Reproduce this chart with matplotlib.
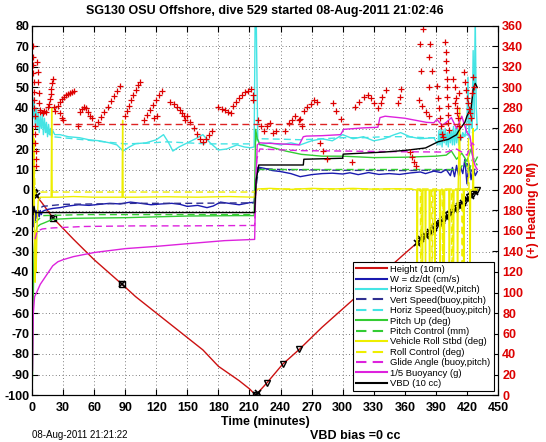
import matplotlib
matplotlib.use('Agg')  # no UI backend
import numpy as np
import matplotlib.pyplot as plt

plt.rcParams['font.family'] = ['Liberation Sans', 'DejaVu Sans']
plt.rcParams['axes.unicode_minus'] = False

# ---- data (time in minutes) ----
height_t = [0, 1.5, 3, 4.5, 10, 20, 40, 60, 87, 100, 120, 150, 165, 180, 200, 210, 216, 218, 227, 242, 258, 280, 300, 320, 340, 360,
            372, 374, 376, 378, 380, 382, 384, 386, 388, 390, 392, 394, 396, 398, 400, 402, 404, 406, 408, 410, 412, 414, 416, 418,
            420, 422, 424, 426, 428, 430]
height_v = [0, -1, -2, -3, -6.5, -13.5, -24, -34, -46, -52, -60, -72, -78, -86, -93, -97, -100, -99, -94, -85, -77.8, -67, -58, -49, -40, -31,
            -25.7, -24.8, -23.9, -23.0, -22.2, -21.3, -20.4, -19.5, -18.6, -17.7, -16.8, -15.9, -15.1, -14.2, -13.3, -12.4, -11.5, -10.6, -9.7, -8.9,
            -8.0, -7.1, -6.2, -5.3, -4.4, -3.5, -2.7, -1.8, -0.9, 0]
mark_x_idx = [0, 1, 2, 3, 5, 8, 16, 17]
mark_sq_idx = [5, 8, 16]
mark_tri_idx = [18, 19, 20]
mark_end_idx = list(range(26, 56))

w_t = [0, 0.5, 1, 1.5, 2, 2.5, 3, 4, 5, 6, 7, 8, 9, 10, 12, 15, 20, 27, 35, 45,
       55, 65, 75, 85, 95, 105, 115, 125, 135, 143, 150, 160, 169, 175, 182, 190, 200, 210, 214.5, 216,
       218, 220, 225, 232, 240, 250, 259, 270, 280, 290, 300, 307, 315, 325, 335, 345, 355, 365, 375, 380,
       388, 395, 400, 404, 406, 408, 410, 412, 414, 416, 418, 420, 422, 424, 426, 428, 430]
w_v = [-20, -13, -18, -12, -16, -11, -15, -10, -14, -10, -13, -10, -12, -10.5, -10, -9.5, -9, -8.6, -7.8, -7.2,
       -7.5, -7.0, -6.5, -6.8, -5.9, -6.5, -7.2, -6.8, -6.5, -7, -8, -7.5, -8.6, -7.8, -5.9, -6.5, -7.2, -6.2, -6.0, 2,
       11, 11, 10.5, 9.5, 9, 8, 6.5, 7.5, 8, 8.2, 7.8, 8.4, 7.5, 8.5, 7.6, 8, 7.6, 8.3, 8.8, 8,
       9.2, 8.5, 10, 7, 11, 6.5, 12, 7, 11, 8, 15, 3, 13, 5, 11, 7, 9]

hs_t = [0, 1, 2, 3, 4, 5, 6, 7, 8, 9, 10, 11, 12, 13, 14, 15, 16, 17, 18, 19, 20,
        22, 27, 35, 46, 55, 65, 75, 82, 88, 94, 100, 110, 120, 127, 132, 136, 142, 150, 158,
        165, 172, 180, 188, 198, 205, 211, 214.5, 215.5, 216.5, 218, 220, 230, 240, 250, 259, 270, 280, 290, 300,
        310, 320, 330, 340, 350, 356, 365, 375, 388, 392,
        393, 394, 395, 396, 397, 398, 399, 400, 401, 402, 403, 404, 405, 406, 407, 408, 409, 410, 411, 412, 413, 414,
        416, 418, 420, 421, 422, 424, 425, 426, 427, 428, 429, 430]
hs_v = [50, 35, 45, 32, 40, 30, 38, 28, 36, 30, 37, 27, 35, 28, 33, 26, 32, 27, 30, 26, 29,
        27, 27, 26, 25.5, 24.5, 24, 23, 22, 19, 21, 22.6, 23, 24.5, 27, 23, 19, 21, 23, 25,
        27, 23, 19.5, 20, 22, 21, 20.6, 21, 85, 85, 25, 22, 23, 22, 23, 22, 24, 25, 24, 27,
        25, 26, 24, 25, 27, 28, 26, 25, 25.5, 22,
        29, 22, 30, 21, 29, 23, 30, 22, 28, 21, 30, 23, 29, 22, 31, 22, 30, 23, 31, 22, 30, 24,
        28, 26, 33, 55, 25, 40, 30, 68, 35, 85, 40, 30]

vs_t = [3, 10, 30, 60, 100, 150, 200, 215, 217, 219, 240, 300, 360, 400, 415, 420, 425, 430]
vs_v = [-13, -8, -7, -6.8, -6.5, -6.5, -6.3, -6.3, 4, 10.5, 10, 9.6, 9.5, 9.7, 10, 13, 9, 11]

hb_t = [2, 10, 20, 30, 50, 70, 90, 110, 130, 150, 170, 190, 210, 215, 217, 220, 240, 260, 280, 300,
        320, 340, 360, 380, 400, 415, 425, 430]
hb_v = [38, 30, 26, 25.5, 24.5, 23.5, 22.5, 22.8, 23.5, 23, 22.5, 22.5, 22.5, 22.5, 25, 25, 24.8, 24.5, 25, 25.5,
        25.5, 26, 26, 25.5, 25.5, 26, 28, 30]

pu_t = [0, 0.5, 1, 2, 3, 5, 8, 12, 20, 40, 90, 150, 200, 214.5, 216, 217.5, 220, 230, 245, 260,
        280, 300, 330, 360, 390, 400, 405, 410, 415, 420, 424, 427, 430]
pu_v = [-100, -90, -60, -30, -22, -18, -16.8, -16, -14.3, -13.8, -13.5, -12.7, -12.5, -12.5, 29.6, 25, 22.2, 21, 19, 17.4,
        16.5, 16.5, 15.8, 16, 16.5, 17, 19, 15, 18, 14, 20, 13, 16]

pc_t = [3, 10, 50, 100, 150, 200, 215, 217, 220, 260, 300, 350, 400, 413, 418, 422, 426, 430]
pc_v = [-16, -12.5, -12, -12, -12, -12, -12, 8, 10, 10, 10, 10, 10, 10, 14, 9, 16, 12]

roll_t = [0, 0.5, 1, 1.5, 2, 2.5, 3, 3.5, 4, 5, 6, 8, 12, 18.5, 19, 19.5, 25, 40, 60, 87,
          87.5, 88, 100, 130, 160, 190, 214.5, 216, 218, 230, 250, 270, 290, 310, 330, 350,
          365, 371.5, 372, 372.5, 376.5, 377, 377.5, 379.5, 380, 380.5, 383.5, 384, 384.5, 388.5, 389, 389.5,
          393.5, 394, 394.5, 397.5, 398, 398.5, 402.5, 403, 403.5, 406.5, 407, 407.5, 410.5, 411, 411.5,
          413, 413.5, 416.5, 417, 417.5, 420, 422.5, 423, 423.5, 425.5, 426, 426.5, 430]
roll_v = [35, 20, 30, -10, 25, -30, -45, -20, -40, -15, -5, -3.5, -3.5, -3.5, 40, -3.5, -3.5, -3.2, -3.5, -3.5,
          34, -3.5, -3.5, -3.3, -3.5, -3.2, -3.5, -1, 0.5, 0.8, 0.3, 0.8, 0.5, 0.8, 0.4, 0.6,
          0.5, 0, -60, 0, 0, -75, 0, 0, -45, 0, 0, -80, 0, 0, -55, 0,
          0, -70, 0, 0, -60, 0, 0, -85, 0, 0, -50, 0, 0, -70, 0,
          40, 0, 0, -65, 0, 0, 0, -60, 0, 0, 30, 0, 0]

rc_t = [0, 1, 2, 3, 5, 10, 50, 100, 150, 200, 215, 217, 240, 300, 360, 370, 375, 375.5, 376, 386,
        386.5, 387, 396, 396.5, 397, 405, 405.5, 406, 415, 415.5, 416, 421, 421.5, 422, 430]
rc_v = [30, 5, 20, -2, -1, -1, -1, -1, -1, -1, -1, 0.5, 0.5, 0.5, 0.5, 0.5, 0.5, -50, 0.5, 0.5,
        -60, 0.5, 0.5, -45, 0.5, 0.5, -65, 0.5, 0.5, -55, 0.5, 0.5, 25, 0.5, 0.5]

ga_t = [3, 5, 10, 20, 50, 100, 150, 215, 217, 220, 260, 300, 350, 400, 410, 420, 425, 430]
ga_v = [-24, -20, -19, -18.5, -17.8, -17.5, -17.5, -17.3, 15, 20, 19.2, 19, 18.7, 18.5, 20, 17, 23, 20]

bu_t = [0, 0.5, 1.3, 2.5, 4.5, 8, 12, 16, 20, 25, 30, 40, 60, 90, 120, 150, 186, 215, 216, 217.5,
        220, 240, 258, 262, 265, 280, 298, 301, 320, 334, 336, 341, 360, 381, 388, 391, 396, 400, 405, 410,
        415, 420, 423, 426, 428, 430]
bu_v = [-90, -88, -60, -52, -50, -46, -43, -40, -37, -35, -34, -32.5, -30.5, -28.6, -27.5, -26.2, -24.7, -24.1, 0, 22,
        23, 22.5, 22, 26, 26.3, 26.5, 27, 29.6, 30.3, 30.6, 35.3, 36, 35, 33, 32.8, 34.4, 31.5, 33, 35.3, 30,
        36, 28, 26.3, 15, 11.7, 10]

vbd_t = [0, 1, 2, 3, 5, 50, 100, 150, 200, 215, 216.5, 219, 262, 262.5, 300, 300.5, 320, 340, 360, 380,
         384, 392, 402, 410, 413, 418, 420, 424, 426, 428, 430]
vbd_v = [-5, -12, -8, -11, -11, -11, -11, -11, -11, -11, 5, 12.2, 12.2, 15, 15.5, 17.5, 18, 18.5, 19.3, 20.5,
         21.5, 23.5, 24.7, 27, 29.6, 33, 36, 40, 49, 52, 50]

# heading (deg, right axis) samples: (time, heading)
heading_pts = [
    (0.5, 340), (0.7, 330), (1, 322), (1.2, 314), (1.5, 305), (1.8, 296), (2, 288), (2.3, 280), (2.5, 272), (2.8, 262),
    (3, 255), (3.3, 246), (3.6, 238), (3.8, 230), (4, 223), (5, 325), (5.5, 315), (6, 305), (6.5, 295), (7, 285),
    (7.5, 278), (8, 276), (11, 275), (12, 277), (13.5, 276), (15, 281), (16.5, 284), (17, 289), (18, 294), (18.5, 299),
    (19.5, 304), (20, 308), (21, 281), (22.5, 277), (25, 282), (27, 286), (29, 289), (31, 291), (33, 293), (35, 294),
    (37, 295), (39, 296), (41, 297), (27, 275), (29, 270), (30, 268), (44, 262), (46, 276), (48, 279), (50, 281),
    (52, 280), (54, 276), (56, 272), (58, 270), (61, 262), (64, 266), (67, 271), (70, 276), (73, 281), (76, 287),
    (79, 292), (82, 297), (85, 301), (90, 272), (92, 277), (94, 282), (96, 288), (98, 293), (100, 298), (102, 302),
    (104, 305), (108, 268), (111, 273), (114, 278), (117, 283), (120, 288), (123, 293), (126, 297), (118, 270), (121, 272),
    (133, 286), (137, 284), (140, 281), (143, 278), (145, 275), (146.5, 272), (148, 268), (150, 272), (153, 266), (156, 260),
    (159, 255), (162, 250), (165, 247), (168, 250), (171, 254), (174, 258), (180, 281), (183, 279), (186, 278), (189, 276),
    (192, 275), (194, 282), (197, 286), (200, 290), (203, 293), (206, 296), (209, 297), (211, 299), (213, 293), (213, 288),
    (218, 268), (221, 262), (224, 258), (227, 262), (230, 265), (233, 256), (236, 258), (244, 258), (248, 265), (251, 268),
    (254, 272), (258, 268), (261, 262), (259, 269), (263, 277), (266, 281), (269, 284), (272, 288), (275, 286), (278, 246),
    (281, 238), (285, 230), (291, 285), (294, 277), (298, 269), (309, 227), (312, 281), (316, 286), (321, 291), (324, 293),
    (327, 290), (330, 285), (334, 280), (337, 285), (338, 291), (342, 298), (353, 285), (355, 291), (356, 299), (365, 237),
    (367, 232), (369, 227), (371, 223), (374, 288), (377, 282), (380, 276), (383, 272), (378, 357), (374.5, 342), (384.5, 342),
    (383, 330), (376, 316), (386, 316), (383, 300), (391, 301), (392, 290), (393, 280), (394, 270), (395, 262), (396, 255),
    (397, 252), (399, 344), (399.5, 335), (400, 326), (400, 317), (400.5, 308), (401, 300), (401, 291), (401.5, 282), (402, 273),
    (402, 265), (402.5, 259), (407, 308), (408, 300), (409, 290), (410, 280), (411, 270), (412, 262), (413, 252), (408, 285),
    (410, 275), (412, 295), (417, 315), (418, 305), (419, 298), (420, 290), (421, 285), (422, 279), (423, 275), (424, 270),
    (425, 295), (426, 310), (427, 300),
]
heading_ref_t = [20, 430]
heading_ref_v = [264, 264]

RED = '#cc1111'
BLUE = '#1a1ab0'
NAVY = '#303090'
CYAN = '#44e4e4'
GREEN = '#33cc33'
YELLOW = '#eeee00'
MAGENTA = '#dd22dd'
DASH = (0, (5, 3))

fig = plt.figure(figsize=(5.46, 4.42), dpi=100)
ax = fig.add_axes([32/546, 47/442, 466/546, 369/442])

lw = 1.0
ax.plot(height_t, height_v, color=RED, lw=lw, label='Height (10m)')
ht = np.array(height_t)
hv = np.array(height_v)
ax.plot(ht[mark_x_idx], hv[mark_x_idx], 'x', color='k', ms=5, mew=1.2)
ax.plot(ht[mark_sq_idx], hv[mark_sq_idx], 's', color='k', mfc='none', ms=5, mew=1)
ax.plot(ht[mark_tri_idx], hv[mark_tri_idx], 'v', color='k', mfc='none', ms=5, mew=1)
ax.plot(ht[mark_end_idx[::2]], hv[mark_end_idx[::2]], 'x', color='k', ms=5, mew=1.2)
ax.plot(ht[mark_end_idx[1::2]], hv[mark_end_idx[1::2]], 'v', color='k', mfc='none', ms=5, mew=1)

ax.plot(w_t, w_v, color=BLUE, lw=lw, label='W = dz/dt (cm/s)')
ax.plot(hs_t, hs_v, color=CYAN, lw=lw, label='Horiz Speed(W,pitch)')
ax.plot(vs_t, vs_v, color=NAVY, lw=lw, linestyle=DASH, label='Vert Speed(buoy,pitch)')
ax.plot(hb_t, hb_v, color=CYAN, lw=lw, linestyle=DASH, label='Horiz Speed(buoy,pitch)')
ax.plot(pu_t, pu_v, color=GREEN, lw=lw, label='Pitch Up (deg)')
ax.plot(pc_t, pc_v, color=GREEN, lw=lw, linestyle=DASH, label='Pitch Control (mm)')
ax.plot(roll_t, roll_v, color=YELLOW, lw=lw, label='Vehicle Roll Stbd (deg)')
ax.plot(rc_t, rc_v, color=YELLOW, lw=lw, linestyle=DASH, label='Roll Control (deg)')
ax.plot(ga_t, ga_v, color=MAGENTA, lw=lw, linestyle=DASH, label='Glide Angle (buoy,pitch)')
ax.plot(bu_t, bu_v, color=MAGENTA, lw=lw, label='1/5 Buoyancy (g)')
ax.plot(vbd_t, vbd_v, color='k', lw=lw, label='VBD (10 cc)')

ax.set_xlim(0, 450)
ax.set_ylim(-100, 80)
ax.set_xticks(range(0, 451, 30))
ax.set_yticks(range(-100, 81, 10))
ax.grid(True, linestyle=(0, (1, 3)), color='#555555', lw=0.6)
ax.tick_params(direction='in', length=4, top=True, right=False, labelsize=9, pad=2)
ax.tick_params(axis='x', pad=5)
for lab in ax.get_xticklabels() + ax.get_yticklabels():
    lab.set_fontweight('bold')
for s in ax.spines.values():
    s.set_linewidth(0.8)

ax2 = ax.twinx()
hd = np.array(heading_pts)
ax2.plot(hd[:, 0], hd[:, 1], '+', color='#dd0000', ms=4, mew=0.9)
ax2.plot(heading_ref_t, heading_ref_v, color='#dd2222', lw=lw, linestyle=DASH)
ax2.set_ylim(0, 360)
ax2.set_yticks(range(0, 361, 20))
ax2.tick_params(direction='in', length=4, labelsize=9, labelcolor='#dd0000', pad=3)
for lab in ax2.get_yticklabels():
    lab.set_fontweight('bold')
ax2.set_ylabel('(+) Heading (\u00b0M)', color='#dd0000', fontsize=9, fontweight='bold', labelpad=3)

handles, labels = ax.get_legend_handles_labels()
leg = ax2.legend(handles, labels, loc='lower right', bbox_to_anchor=(0.991, 0.011), borderaxespad=0,
                 fontsize=6.8, frameon=True, fancybox=False, edgecolor='k', framealpha=1,
                 handlelength=3.3, handletextpad=0.3, labelspacing=0.15, borderpad=0.3)
leg.get_frame().set_linewidth(0.8)
for h in leg.get_lines():
    h.set_linewidth(1.5)

fig.text(265/546, 1 - 11/442, 'SG130 OSU Offshore, dive 529 started 08-Aug-2011 21:02:46',
         ha='center', va='center', fontsize=9, fontweight='bold')
fig.text(265/546, 1 - 422/442, 'Time (minutes)', ha='center', va='center', fontsize=9, fontweight='bold')
fig.text(32/546, 1 - 435/442, '08-Aug-2011 21:21:22', ha='left', va='center', fontsize=7)
fig.text(310/546, 1 - 436/442, 'VBD bias =0 cc', ha='left', va='center', fontsize=9, fontweight='bold')

fig.savefig('out.png', dpi=100)
